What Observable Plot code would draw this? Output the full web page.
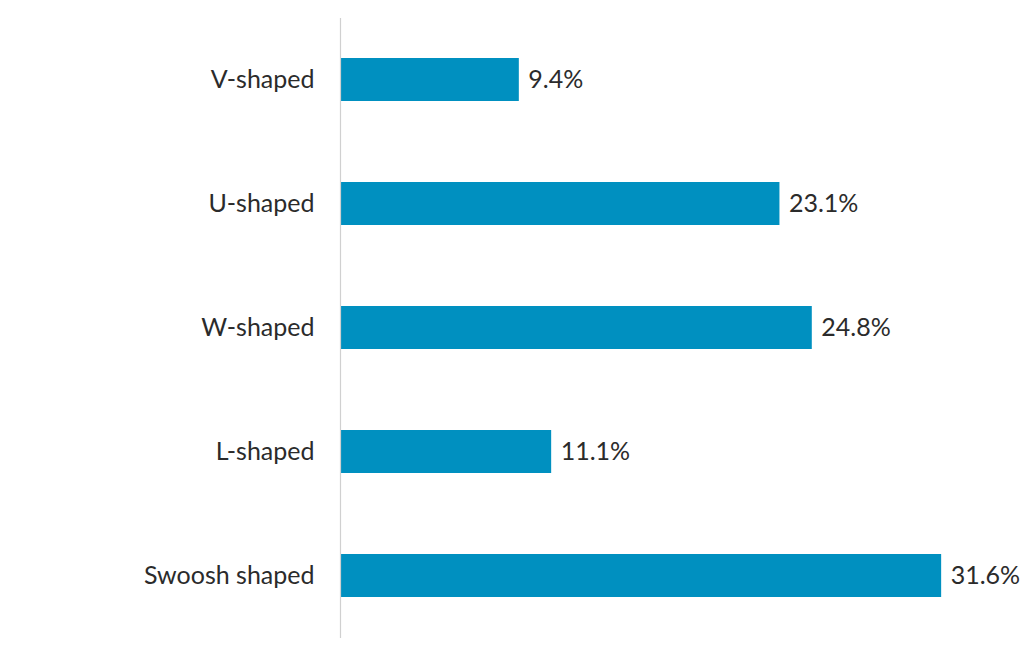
<!DOCTYPE html>
<html><head><meta charset="utf-8">
<script src="https://cdn.jsdelivr.net/npm/d3@7"></script>
<script src="https://cdn.jsdelivr.net/npm/@observablehq/plot@0.6"></script>
<style>body{margin:0;background:#fff}</style>
</head><body><div id="chart"></div>
<script>
const categories = ["V-shaped","U-shaped","W-shaped","L-shaped","Swoosh shaped"];
const values = [9.4, 23.1, 24.8, 11.1, 31.6];
const data = categories.map((c,i)=>({cat:c, v:values[i]}));
const chart = Plot.plot({
  width: 1024, height: 654,
  marginTop: 18, marginBottom: 16, marginLeft: 340, marginRight: 2,
  style: {fontFamily: "Lato", fontSize: "25px", color: "#2b2b2b", background: "#fff"},
  x: {domain: [0, 35.85], axis: null},
  y: {domain: categories, paddingInner: 0.65, paddingOuter: 0.325, label: null, tickSize: 0, tickPadding: 26},
  marks: [
    Plot.barX(data, {y: "cat", x: "v", fill: "#0090c0"}),
    Plot.text(data, {y: "cat", x: "v", text: d => d.v.toFixed(1) + "%", textAnchor: "start", dx: 9, fill: "#2b2b2b", fontSize: 25}),
    Plot.ruleX([0], {stroke: "#d0d0d0", strokeWidth: 1.2})
  ]
});
document.getElementById("chart").appendChild(chart);
</script></body></html>
